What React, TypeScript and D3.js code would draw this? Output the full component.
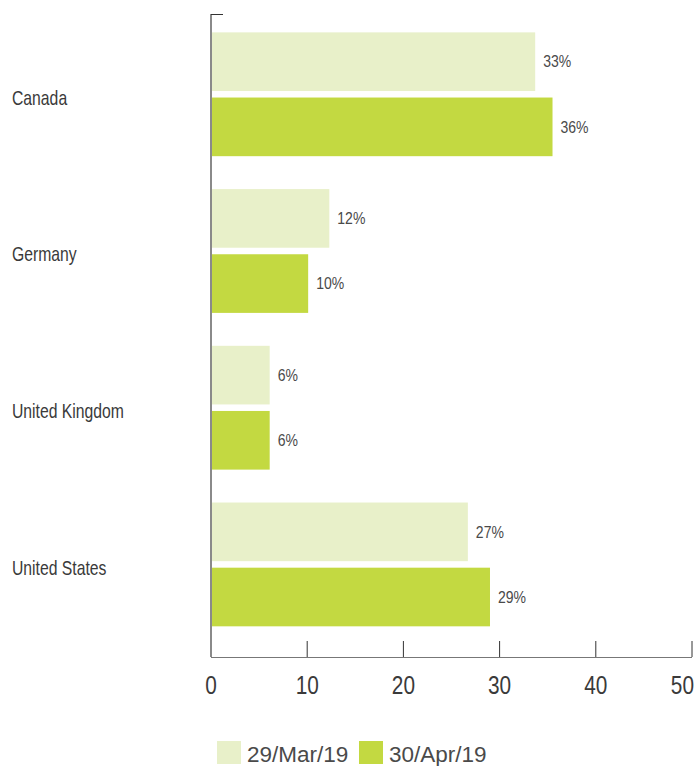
import { useRef, useEffect } from 'react';
import * as d3 from 'd3';

const countries = ['Canada', 'Germany', 'United Kingdom', 'United States'];
const seriesNames = ['29/Mar/19', '30/Apr/19'];
const marValues = [33.7, 12.3, 6.1, 26.7];
const aprValues = [35.5, 10.1, 6.1, 29.0];
const marLabels = ['33%', '12%', '6%', '27%'];
const aprLabels = ['36%', '10%', '6%', '29%'];
const xTicks = [0, 10, 20, 30, 40, 50];
const colors = ['#e8f0c9', '#c3d941'];

const font = '"Liberation Sans", Arial, sans-serif';

export default function App() {
    const svgRef = useRef<SVGSVGElement | null>(null);
    const width = 699;
    const height = 766;

    useEffect(() => {
        if (!svgRef.current) return;
        const svg = d3.select(svgRef.current);
        svg.selectAll('*').remove();

        const left = 211, top = 14, bottom = 657, right = 692;

        const x = d3.scaleLinear().domain([0, 50]).range([left, right]);
        const y = d3.scaleBand<string>().domain(countries).range([16.7, 642]).paddingInner(0.21).paddingOuter(0.1);
        const inner = d3.scaleBand<number>().domain([0, 1]).range([0, y.bandwidth()]).paddingInner(0.1);

        const series = [marValues, aprValues];
        const labels = [marLabels, aprLabels];

        // condensed look: squeeze text horizontally around its anchor
        const squeeze = (sx: number) => (px: number, py: number) => `translate(${px},${py}) scale(${sx},1)`;

        // bars
        series.forEach((vals, si) => {
            svg.append('g')
                .selectAll('rect')
                .data(countries)
                .enter().append('rect')
                .attr('x', x(0))
                .attr('y', c => (y(c) as number) + (inner(si) as number))
                .attr('width', (c, i) => x(vals[i]) - x(0))
                .attr('height', inner.bandwidth())
                .attr('fill', colors[si]);

            const tf = squeeze(0.85);
            svg.append('g')
                .selectAll('text')
                .data(countries)
                .enter().append('text')
                .attr('transform', (c, i) => tf(x(vals[i]) + 8,
                    (y(c) as number) + (inner(si) as number) + inner.bandwidth() / 2))
                .attr('dy', '0.35em')
                .attr('font-family', font)
                .attr('font-size', 16.5)
                .attr('fill', '#4a4a4a')
                .text((c, i) => labels[si][i]);
        });

        // category labels
        const catTf = squeeze(0.75);
        svg.append('g')
            .selectAll('text')
            .data(countries)
            .enter().append('text')
            .attr('transform', c => catTf(12, (y(c) as number) + y.bandwidth() / 2 + 3))
            .attr('dy', '0.35em')
            .attr('font-family', font)
            .attr('font-size', 21)
            .attr('fill', '#3a3a3a')
            .text(c => c);

        // axes
        svg.append('line')
            .attr('x1', left).attr('x2', left)
            .attr('y1', top).attr('y2', bottom)
            .attr('stroke', '#8a8a8a').attr('stroke-width', 2);
        svg.append('line')
            .attr('x1', left).attr('x2', left + 12)
            .attr('y1', top + 0.5).attr('y2', top + 0.5)
            .attr('stroke', '#333').attr('stroke-width', 1);
        svg.append('line')
            .attr('x1', left).attr('x2', right)
            .attr('y1', bottom + 0.5).attr('y2', bottom + 0.5)
            .attr('stroke', '#777').attr('stroke-width', 1);

        svg.append('g')
            .selectAll('line')
            .data(xTicks.slice(1))
            .enter().append('line')
            .attr('x1', d => x(d)).attr('x2', d => x(d))
            .attr('y1', bottom - 16).attr('y2', bottom)
            .attr('stroke', '#333').attr('stroke-width', 1);

        const tickTf = squeeze(0.8);
        svg.append('g')
            .selectAll('text')
            .data(xTicks)
            .enter().append('text')
            .attr('transform', (d, i) => tickTf(i === xTicks.length - 1 ? x(d) + 2 : x(d), 694))
            .attr('text-anchor', (d, i) => i === xTicks.length - 1 ? 'end' : 'middle')
            .attr('font-family', font)
            .attr('font-size', 26)
            .attr('fill', '#3a3a3a')
            .text(d => d);

        // legend
        const legendX = [217, 359];
        seriesNames.forEach((name, i) => {
            svg.append('rect')
                .attr('x', legendX[i]).attr('y', 741)
                .attr('width', 24).attr('height', 23)
                .attr('fill', colors[i]);
            svg.append('text')
                .attr('x', legendX[i] + 30)
                .attr('y', 762)
                .attr('font-family', font)
                .attr('font-size', 22.5)
                .attr('fill', '#4a4a4a')
                .text(name);
        });
    }, []);

    return (
        <svg ref={svgRef} width={width} height={height}
            style={{ position: 'absolute', left: 0, top: 0 }} />
    );
}
